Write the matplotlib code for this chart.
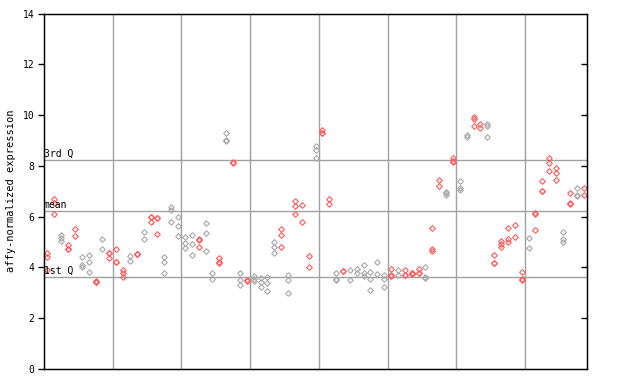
import numpy as np
import matplotlib
matplotlib.use('Agg')
import matplotlib.pyplot as plt

# expression values per sample (replicates)
values = [
    [4.55, 4.43, 3.9], [6.68, 6.55, 6.1], [5.29, 5.16, 5.05], [4.87, 4.74, 4.72],
    [5.5, 5.24], [4.40, 4.08, 4.0], [4.47, 4.21, 3.82], [3.47, 3.44, 3.42],
    [5.1, 4.71], [4.58, 4.56, 4.37], [4.71, 4.23, 4.21], [3.9, 3.8, 3.64],
    [4.45, 4.24], [4.53, 4.52, 4.51], [5.39, 5.1], [6.0, 5.98, 5.77],
    [5.96, 5.94, 5.3], [4.40, 4.21, 3.77], [6.39, 6.26, 5.79], [5.97, 5.63, 5.24],
    [5.18, 4.95, 4.75], [5.29, 4.91, 4.50], [5.1, 5.08, 4.82], [5.73, 5.34, 4.63],
    [3.77, 3.53], [4.37, 4.22, 4.18], [9.28, 9.02, 8.97], [8.17, 8.12],
    [3.79, 3.50, 3.29], [3.5, 3.45], [3.66, 3.56, 3.45], [3.58, 3.43, 3.22],
    [3.61, 3.40, 3.06], [5.0, 4.82, 4.55], [5.52, 5.26, 4.79], [3.69, 3.50, 2.98],
    [6.6, 6.42, 6.1], [6.44, 5.79], [4.45, 4.0], [8.8, 8.62, 8.3],
    [9.4, 9.3, 9.28], [6.68, 6.5], [3.77, 3.53, 3.5], [3.86, 3.84],
    [3.9, 3.5], [3.95, 3.77], [4.08, 3.77, 3.66], [3.82, 3.53, 3.11],
    [4.21, 3.74], [3.69, 3.53, 3.22], [3.92, 3.69, 3.68], [3.9, 3.69],
    [3.9, 3.71, 3.70], [3.79, 3.78, 3.75], [3.95, 3.79, 3.78], [4.0, 3.64, 3.6],
    [5.54, 4.71, 4.66], [7.44, 7.2], [6.97, 6.95, 6.84], [8.3, 8.18, 8.16],
    [7.39, 7.13, 7.05], [9.2, 9.12], [9.91, 9.85, 9.57], [9.65, 9.49],
    [9.65, 9.57, 9.15], [4.47, 4.19, 4.17], [5.05, 4.92, 4.79], [5.55, 5.13, 5.0],
    [5.67, 5.18], [3.82, 3.55, 3.5], [5.16, 4.76], [6.13, 6.11, 5.47],
    [7.39, 7.02, 7.0], [8.3, 8.1, 7.78], [7.91, 7.73, 7.44], [5.39, 5.1, 5.0],
    [6.92, 6.52, 6.5], [7.13, 6.87, 6.82], [7.13, 6.87],
]

# r = red, g = grey, one per sample
colour_codes = ''.join(['rrgrrggrgr', 'rrgrgrrggg', 'ggrggrgrgr', 'ggggrgrrrg',
                        'rrgrgggggg', 'rgrrrgrrgr', 'ggrrgrrrrr', 'grrrrgrgr'])

q1 = 3.62
mean_val = 6.21
q3 = 8.22

RED = '#ff5a5a'
GREY = '#a8a8a8'

fig = plt.figure(figsize=(6.4, 3.84), dpi=100)
ax = fig.add_axes([44/640, 15/384, 543/640, 355.5/384])

for i, vals in enumerate(values):
    c = RED if colour_codes[i] == 'r' else GREY
    ax.plot([i]*len(vals), vals, linestyle='none', marker='D', ms=2.9,
            mfc='none', mec=c, mew=0.8)

n = len(values)
ax.set_xlim(-0.5, n - 0.5)
ax.set_ylim(0, 14)

for b in np.arange(9.5, n - 1, 10):
    ax.axvline(b, color='#a0a0a0', lw=1, zorder=0)
for y, lab in [(q3, '3rd Q'), (mean_val, 'mean'), (q1, '1st Q')]:
    ax.axhline(y, color='#a0a0a0', lw=1, zorder=0)
    ax.text(-0.5, y + 0.06, lab, fontsize=7, family='DejaVu Sans Mono',
            ha='left', va='bottom')

ax.set_xticks([])
ax.set_yticks(range(0, 15, 2))
ax.set_yticklabels([str(v) for v in range(0, 15, 2)], family='DejaVu Sans Mono', fontsize=7)
ax.tick_params(axis='y', direction='out', length=4, width=1, pad=3)
ax.set_ylabel('affy-normalized expression', family='DejaVu Sans Mono', fontsize=7.5, labelpad=5)

for s in ax.spines.values():
    s.set_linewidth(1)

# inward ticks on the right side
ax2 = ax.twinx()
ax2.set_ylim(0, 14)
ax2.set_yticks(range(2, 13, 2))
ax2.tick_params(axis='y', direction='in', length=4, width=1, labelright=False)
ax2.set_xticks([])

fig.savefig('out.png', dpi=100)
